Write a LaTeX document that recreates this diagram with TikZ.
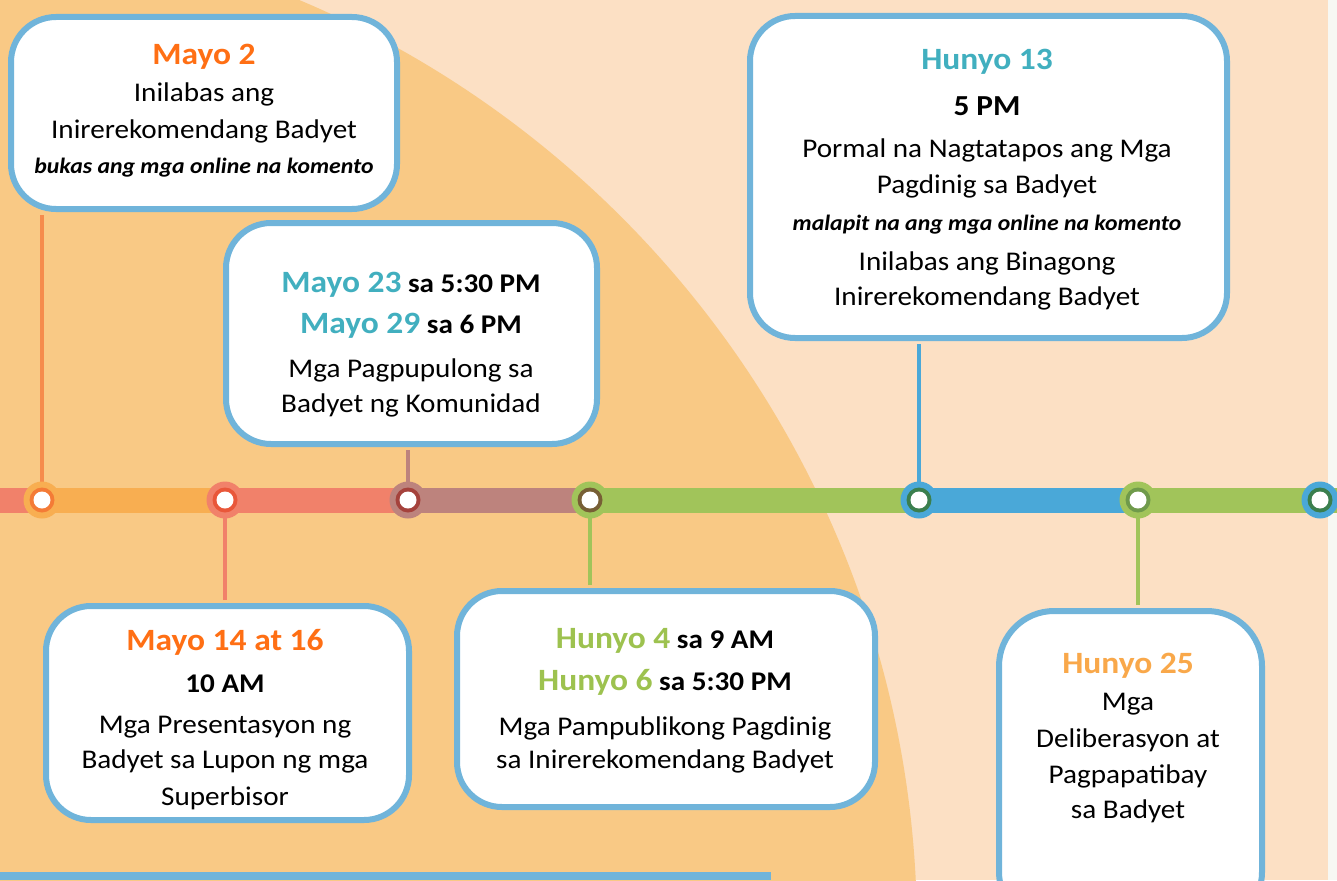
\documentclass[tikz,border=0pt]{standalone}
\usepackage{fontspec}
\setmainfont{Carlito}[FakeStretch=1.08]
\usepackage{tikz}

\definecolor{peach}{HTML}{FCE0C4}
\definecolor{sand}{HTML}{F9C985}
\definecolor{paper}{HTML}{F7F8F3}
\definecolor{frame}{HTML}{70B4DA}
\definecolor{tangerine}{HTML}{FF6F14}
\definecolor{lagoon}{HTML}{41AFBF}
\definecolor{leaf}{HTML}{9DC24F}
\definecolor{apricot}{HTML}{F9A84A}
\definecolor{barorange}{HTML}{F8AE51}
\definecolor{barsalmon}{HTML}{F1816A}
\definecolor{barmauve}{HTML}{BD837D}
\definecolor{bargreen}{HTML}{A1C45A}
\definecolor{barblue}{HTML}{4AA8D8}
\definecolor{stemorange}{HTML}{F68B4C}
\definecolor{dotorange}{HTML}{F47B36}
\definecolor{dotred}{HTML}{E9573A}
\definecolor{dotwine}{HTML}{A5423C}
\definecolor{dotolive}{HTML}{775F35}
\definecolor{dotpine}{HTML}{3B7F4E}
\definecolor{dotmoss}{HTML}{6F9A4B}

\begin{document}
\begin{tikzpicture}[x=1pt,y=1pt,yscale=-1,xscale=1,
    card/.style={draw=frame, line width=6pt, fill=white, rounded corners=45pt, inner sep=0pt},
    rail/.style={draw=#1, line width=25pt},
    stem/.style={draw=#1, line width=4.5pt, shorten <=3pt},
    station/.style 2 args={circle, minimum size=37pt, inner sep=0pt, fill=#1,
      path picture={\fill[#2] (path picture bounding box.center) circle (12.5pt);
        \fill[white] (path picture bounding box.center) circle (8.5pt);}},
    txt/.style={anchor=base, inner sep=0pt},
    title/.style={txt, font=\fontsize{31}{31}\selectfont\bfseries},
    body/.style={txt, font=\fontsize{27}{27}\selectfont},
    hour/.style={txt, font=\fontsize{27}{27}\selectfont\bfseries},
    note/.style={txt, font=\fontsize{22}{22}\selectfont\bfseries\itshape}]
    \useasboundingbox (0,0) rectangle (1337,880);
    \clip (0,0) rectangle (1337,880);

    %Backdrop
    \fill [peach] (0,0) rectangle (1337,880);
    \fill [sand] (-93,931) circle (1010);
    \fill [paper] (1328,0) rectangle (1337,880);
    \fill [frame] (0,872) rectangle (771,880);

    %Cards
    \node [card, minimum width=386pt, minimum height=192pt] (b1) at (204,113) {};
    \node [card, minimum width=371pt, minimum height=221pt] (b2) at (411.5,333.5) {};
    \node [card, minimum width=363pt, minimum height=214pt] (b3) at (227.5,713) {};
    \node [card, minimum width=418pt, minimum height=216pt] (b4) at (666,699) {};
    \node [card, minimum width=477pt, minimum height=322pt] (b5) at (988.5,177) {};
    \node [card, minimum width=263pt, minimum height=316pt, rounded corners=55pt] (b6) at (1130.5,769) {};

    % Text Node
    \node [title, text=tangerine] (b1a) at (204,65) {Mayo 2};
    \node [body] (b1b) at (204,102) {Inilabas ang};
    \node [body] (b1c) at (204,138) {Inirerekomendang Badyet};
    \node [note] (b1d) at (204,173) {bukas ang mga online na komento};
    % Text Node
    \node [hour] (b2a) at (411,292) {{\fontsize{31}{31}\selectfont\color{lagoon}Mayo 23} sa 5:30 PM};
    \node [hour] (b2b) at (411,333) {{\fontsize{31}{31}\selectfont\color{lagoon}Mayo 29} sa 6 PM};
    \node [body] (b2c) at (411,377) {Mga Pagpupulong sa};
    \node [body] (b2d) at (411,412) {Badyet ng Komunidad};
    % Text Node
    \node [title, text=tangerine] (b3a) at (225,650) {Mayo 14 at 16};
    \node [hour] (b3b) at (225,692) {10 AM};
    \node [body] (b3c) at (225,733) {Mga Presentasyon ng};
    \node [body] (b3d) at (225,768) {Badyet sa Lupon ng mga};
    \node [body] (b3e) at (225,805) {Superbisor};
    % Text Node
    \node [hour] (b4a) at (665,648) {{\fontsize{31}{31}\selectfont\color{leaf}Hunyo 4} sa 9 AM};
    \node [hour] (b4b) at (665,690) {{\fontsize{31}{31}\selectfont\color{leaf}Hunyo 6} sa 5:30 PM};
    \node [body] (b4c) at (665,735) {Mga Pampublikong Pagdinig};
    \node [body] (b4d) at (665,768) {sa Inirerekomendang Badyet};
    % Text Node
    \node [title, text=lagoon] (b5a) at (987,70) {Hunyo 13};
    \node [hour, font=\fontsize{29}{29}\selectfont\bfseries] (b5b) at (987,115) {5 PM};
    \node [body] (b5c) at (987,157) {Pormal na Nagtatapos ang Mga};
    \node [body] (b5d) at (987,193) {Pagdinig sa Badyet};
    \node [note] (b5e) at (987,230) {malapit na ang mga online na komento};
    \node [body] (b5f) at (987,270) {Inilabas ang Binagong};
    \node [body] (b5g) at (987,305) {Inirerekomendang Badyet};
    % Text Node
    \node [title, text=apricot] (b6a) at (1128,673) {Hunyo 25};
    \node [body] (b6b) at (1128,710) {Mga};
    \node [body] (b6c) at (1128,747) {Deliberasyon at};
    \node [body] (b6d) at (1128,783) {Pagpapatibay};
    \node [body] (b6e) at (1128,818) {sa Badyet};

    %Timeline
    \coordinate (lft) at (0,500);
    \coordinate (p1) at (42,500);
    \coordinate (p2) at (225,500);
    \coordinate (p3) at (408,500);
    \coordinate (p4) at (590,500);
    \coordinate (p5) at (919,500);
    \coordinate (p6) at (1138,500);
    \coordinate (p7) at (1320,500);
    \coordinate (rgt) at (1337,500);
    \draw [rail=barsalmon] (lft) -- (p1);
    \draw [rail=barorange] (p1) -- (p2);
    \draw [rail=barsalmon] (p2) -- (p3);
    \draw [rail=barmauve] (p3) -- (p4);
    \draw [rail=bargreen] (p4) -- (p5);
    \draw [rail=barblue] (p5) -- (p6);
    \draw [rail=bargreen] (p6) -- (rgt);

    %Stems
    \draw [stem=stemorange] (p1 |- b1.south) -- (p1);
    \draw [stem=barsalmon] (p2 |- b3.north) -- (p2);
    \draw [stem=barmauve] (p3 |- b2.south) -- (p3);
    \draw [stem=bargreen] (p4 |- b4.north) -- (p4);
    \draw [stem=barblue] (p5 |- b5.south) -- (p5);
    \draw [stem=bargreen] (p6 |- b6.north) -- (p6);

    %Stations
    \node [station={barorange}{dotorange}] (d1) at (p1) {};
    \node [station={barsalmon}{dotred}] (d2) at (p2) {};
    \node [station={barmauve}{dotwine}] (d3) at (p3) {};
    \node [station={bargreen}{dotolive}] (d4) at (p4) {};
    \node [station={barblue}{dotpine}] (d5) at (p5) {};
    \node [station={bargreen}{dotmoss}] (d6) at (p6) {};
    \node [station={barblue}{dotpine}] (d7) at (p7) {};

\end{tikzpicture}
\end{document}
